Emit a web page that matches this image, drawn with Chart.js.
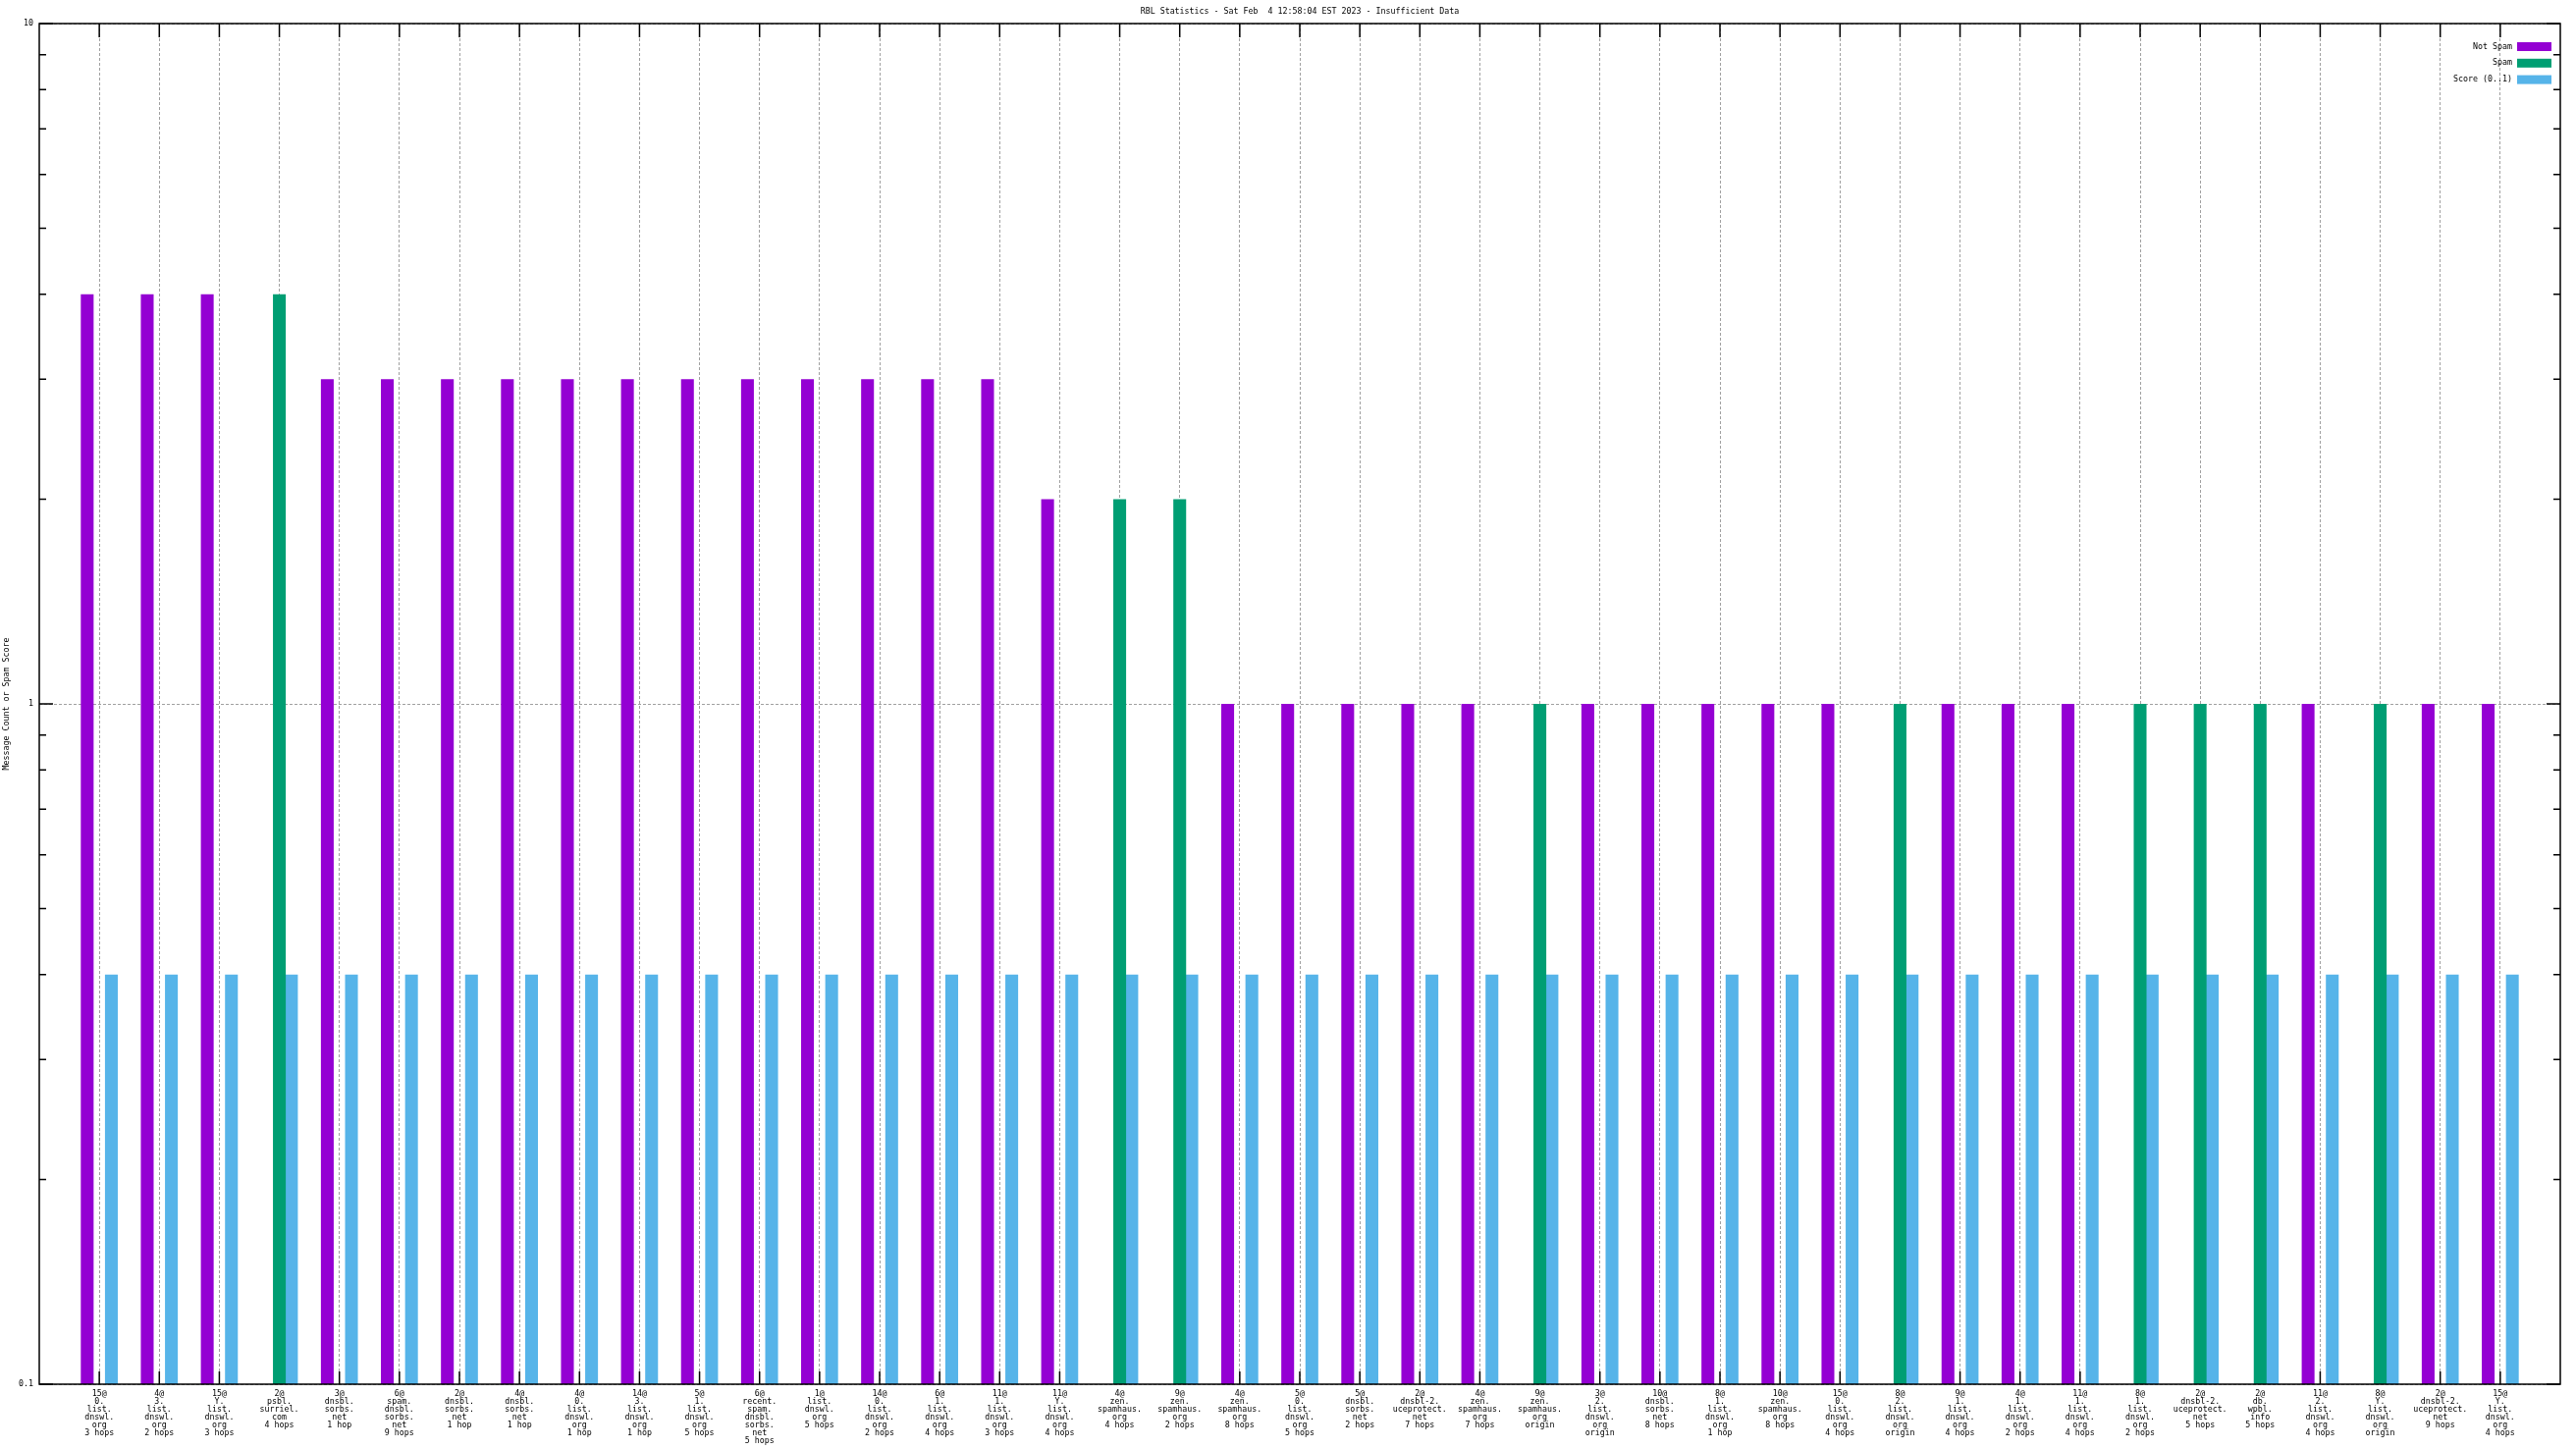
<!DOCTYPE html>
<html>
<head>
<meta charset="utf-8">
<title>RBL Statistics</title>
<script src="https://cdn.jsdelivr.net/npm/chart.js@4.4.1/dist/chart.umd.min.js"></script>
<style>
  html, body { margin: 0; padding: 0; background: #fff; }
  canvas { display: block; }
</style>
</head>
<body>
<canvas id="rblChart" width="2624" height="1476"></canvas>
<script>
// Categories: "count@list" split into label rows
const categories = [
  '15@\n0.\nlist.\ndnswl.\norg\n3 hops',
  '4@\n3.\nlist.\ndnswl.\norg\n2 hops',
  '15@\nY.\nlist.\ndnswl.\norg\n3 hops',
  '2@\npsbl.\nsurriel.\ncom\n4 hops',
  '3@\ndnsbl.\nsorbs.\nnet\n1 hop',
  '6@\nspam.\ndnsbl.\nsorbs.\nnet\n9 hops',
  '2@\ndnsbl.\nsorbs.\nnet\n1 hop',
  '4@\ndnsbl.\nsorbs.\nnet\n1 hop',
  '4@\n0.\nlist.\ndnswl.\norg\n1 hop',
  '14@\n3.\nlist.\ndnswl.\norg\n1 hop',
  '5@\n1.\nlist.\ndnswl.\norg\n5 hops',
  '6@\nrecent.\nspam.\ndnsbl.\nsorbs.\nnet\n5 hops',
  '1@\nlist.\ndnswl.\norg\n5 hops',
  '14@\n0.\nlist.\ndnswl.\norg\n2 hops',
  '6@\n1.\nlist.\ndnswl.\norg\n4 hops',
  '11@\n1.\nlist.\ndnswl.\norg\n3 hops',
  '11@\nY.\nlist.\ndnswl.\norg\n4 hops',
  '4@\nzen.\nspamhaus.\norg\n4 hops',
  '9@\nzen.\nspamhaus.\norg\n2 hops',
  '4@\nzen.\nspamhaus.\norg\n8 hops',
  '5@\n0.\nlist.\ndnswl.\norg\n5 hops',
  '5@\ndnsbl.\nsorbs.\nnet\n2 hops',
  '2@\ndnsbl-2.\nuceprotect.\nnet\n7 hops',
  '4@\nzen.\nspamhaus.\norg\n7 hops',
  '9@\nzen.\nspamhaus.\norg\norigin',
  '3@\n2.\nlist.\ndnswl.\norg\norigin',
  '10@\ndnsbl.\nsorbs.\nnet\n8 hops',
  '8@\n1.\nlist.\ndnswl.\norg\n1 hop',
  '10@\nzen.\nspamhaus.\norg\n8 hops',
  '15@\n0.\nlist.\ndnswl.\norg\n4 hops',
  '8@\n2.\nlist.\ndnswl.\norg\norigin',
  '9@\n1.\nlist.\ndnswl.\norg\n4 hops',
  '4@\n1.\nlist.\ndnswl.\norg\n2 hops',
  '11@\n1.\nlist.\ndnswl.\norg\n4 hops',
  '8@\n1.\nlist.\ndnswl.\norg\n2 hops',
  '2@\ndnsbl-2.\nuceprotect.\nnet\n5 hops',
  '2@\ndb.\nwpbl.\ninfo\n5 hops',
  '11@\n2.\nlist.\ndnswl.\norg\n4 hops',
  '8@\nY.\nlist.\ndnswl.\norg\norigin',
  '2@\ndnsbl-2.\nuceprotect.\nnet\n9 hops',
  '15@\nY.\nlist.\ndnswl.\norg\n4 hops'
];

// Message counts (null = no bar in that slot)
const notSpam = [4, 4, 4, null, 3, 3, 3, 3, 3, 3, 3, 3, 3, 3, 3, 3, 2, null, null, 1, 1,
                 1, 1, 1, null, 1, 1, 1, 1, 1, null, 1, 1, 1, null, null, null, 1, null, 1, 1];
const spam = [null, null, null, 4, null, null, null, null, null, null, null, null, null, null, null, null, null, 2, 2, null, null,
              null, null, null, 1, null, null, null, null, null, 1, null, null, null, 1, 1, 1, null, 1, null, null];
const score = [0.4, 0.4, 0.4, 0.4, 0.4, 0.4, 0.4, 0.4, 0.4, 0.4, 0.4, 0.4, 0.4, 0.4, 0.4, 0.4, 0.4, 0.4, 0.4, 0.4, 0.4,
               0.4, 0.4, 0.4, 0.4, 0.4, 0.4, 0.4, 0.4, 0.4, 0.4, 0.4, 0.4, 0.4, 0.4, 0.4, 0.4, 0.4, 0.4, 0.4, 0.4];

// Y axis ticks (log scale)
const yTicks = [0.1, 1, 10];
const yTickLabels = ['0.1', '1', '10'];
const yMinorTicks = [0.2, 0.3, 0.4, 0.5, 0.6, 0.7, 0.8, 0.9, 2, 3, 4, 5, 6, 7, 8, 9];

const monoFont = '"DejaVu Sans Mono", "Liberation Mono", monospace';
const fontSize = 8.3;

Chart.defaults.font.family = monoFont;
Chart.defaults.font.size = fontSize;
Chart.defaults.color = '#000';

// inward tick marks + frame, like gnuplot
const framePlugin = {
    id: 'frame',
    beforeDatasetsDraw(chart) {
        const { ctx, chartArea: a, scales: { x, y } } = chart;
        ctx.save();
        ctx.strokeStyle = '#000';
        ctx.lineWidth = 1.5;
        ctx.beginPath();
        x.ticks.forEach(t => {
            const px = x.getPixelForValue(t.value);
            ctx.moveTo(px, a.bottom); ctx.lineTo(px, a.bottom - 13);
            ctx.moveTo(px, a.top); ctx.lineTo(px, a.top + 14);
        });
        yTicks.forEach(v => {
            const py = y.getPixelForValue(v);
            ctx.moveTo(a.left, py); ctx.lineTo(a.left + 14, py);
            ctx.moveTo(a.right, py); ctx.lineTo(a.right - 14, py);
        });
        yMinorTicks.forEach(v => {
            const py = y.getPixelForValue(v);
            ctx.moveTo(a.left, py); ctx.lineTo(a.left + 7, py);
            ctx.moveTo(a.right, py); ctx.lineTo(a.right - 7, py);
        });
        ctx.stroke();
        ctx.restore();
    },
    afterDatasetsDraw(chart) {
        const { ctx, chartArea: a } = chart;
        ctx.save();
        ctx.strokeStyle = '#000';
        ctx.lineWidth = 1.5;
        ctx.strokeRect(a.left, a.top, a.right - a.left, a.bottom - a.top);
        ctx.restore();
    }
};

// legend in top-right corner: text then colour box
const boxLegend = {
    id: 'boxLegend',
    afterDraw(chart) {
        const { ctx, chartArea: a } = chart;
        ctx.save();
        ctx.font = fontSize + 'px ' + monoFont;
        ctx.textAlign = 'right';
        ctx.textBaseline = 'middle';
        chart.data.datasets.forEach((ds, i) => {
            const yy = a.top + 23.5 + i * 16.8;
            ctx.fillStyle = '#000';
            ctx.fillText(ds.label, a.right - 49, yy);
            ctx.fillStyle = ds.backgroundColor;
            ctx.fillRect(a.right - 44, yy - 4.5, 35, 9);
        });
        ctx.restore();
    }
};

const ctx = document.getElementById('rblChart').getContext('2d');

new Chart(ctx, {
    type: 'bar',
    data: {
        datasets: [
            {
                label: 'Not Spam',
                data: notSpam.map((v, i) => ({ x: i, y: v })),
                backgroundColor: '#9400d3'
            },
            {
                label: 'Spam',
                data: spam.map((v, i) => ({ x: i, y: v })),
                backgroundColor: '#009e73'
            },
            {
                label: 'Score (0..1)',
                data: score.map((v, i) => ({ x: i, y: v })),
                backgroundColor: '#56b4e9'
            }
        ]
    },
    options: {
        responsive: false,
        devicePixelRatio: 1,
        animation: false,
        categoryPercentage: 0.604,
        barPercentage: 1.06,
        layout: {
            padding: { top: 0, left: 0, right: 16, bottom: 0 }
        },
        plugins: {
            legend: { display: false },
            tooltip: { enabled: false },
            title: {
                display: true,
                text: 'RBL Statistics - Sat Feb  4 12:58:04 EST 2023 - Insufficient Data',
                fullSize: false,
                color: '#000',
                font: { family: monoFont, size: fontSize, weight: 'normal', lineHeight: '8px' },
                padding: { top: 8, bottom: 8 }
            }
        },
        scales: {
            x: {
                type: 'linear',
                min: -1,
                max: 41,
                offset: false,
                afterBuildTicks: scale => {
                    scale.ticks = categories.map((c, i) => ({ value: i }));
                },
                afterFit: scale => { scale.height = 66; },
                grid: {
                    offset: false,
                    color: '#a0a0a0',
                    lineWidth: 1,
                    drawTicks: false
                },
                border: { display: false, dash: [3, 2] },
                ticks: {
                    autoSkip: false,
                    maxRotation: 0,
                    minRotation: 0,
                    padding: 5.5,
                    color: '#000',
                    font: { family: monoFont, size: fontSize, lineHeight: '8px' },
                    callback: value => categories[value] ? categories[value].split('\n') : ''
                }
            },
            y: {
                type: 'logarithmic',
                min: 0.1,
                max: 10,
                afterBuildTicks: scale => {
                    scale.ticks = yTicks.map(v => ({ value: v }));
                },
                afterFit: scale => { scale.width = 40; },
                grid: {
                    color: '#a0a0a0',
                    lineWidth: 1,
                    drawTicks: false
                },
                border: { display: false, dash: [3, 2] },
                ticks: {
                    padding: 6,
                    color: '#000',
                    font: { family: monoFont, size: fontSize, lineHeight: '8px' },
                    callback: value => {
                        const k = yTicks.indexOf(value);
                        return k >= 0 ? yTickLabels[k] : '';
                    }
                },
                title: {
                    display: true,
                    text: 'Message Count or Spam Score',
                    color: '#000',
                    font: { family: monoFont, size: fontSize, lineHeight: '8px' },
                    padding: { top: 3, bottom: 0 }
                }
            }
        }
    },
    plugins: [framePlugin, boxLegend]
});
</script>
</body>
</html>
